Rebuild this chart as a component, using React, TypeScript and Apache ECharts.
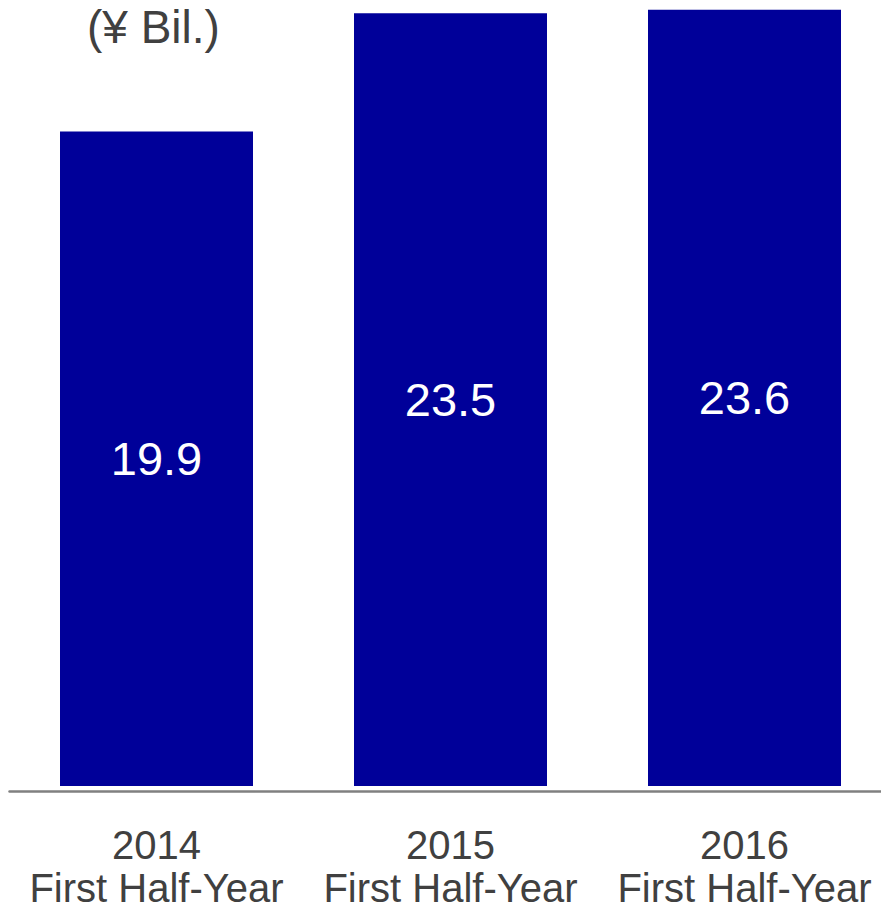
import React, { useEffect, useRef } from "react";
import * as echarts from "echarts";

const years = ["2014", "2015", "2016"];
const periodLabel = "First Half-Year";
const values = [19.9, 23.5, 23.6];
const unitLabel = "(¥ Bil.)";

const FONT = "'Liberation Sans', Arial, Helvetica, sans-serif";

export default function App() {
  const ref = useRef<HTMLDivElement>(null);
  useEffect(() => {
    if (!ref.current) return;
    const chart = echarts.init(ref.current, undefined, { renderer: "svg" });
    chart.setOption({
      animation: false,
      grid: { left: 9.5, right: 8.5, top: 0, bottom: 121, containLabel: false },
      xAxis: {
        type: "category",
        data: years.map((y) => `${y}\n${periodLabel}`),
        offset: 5,
        axisLine: { show: true, onZero: false, lineStyle: { color: "#808080", width: 2.5 } },
        axisTick: { show: false },
        axisLabel: {
          color: "#404040",
          fontSize: 40,
          lineHeight: 43,
          fontFamily: FONT,
          margin: 32,
          interval: 0,
        },
      },
      yAxis: {
        type: "value",
        min: 0,
        max: 23.9,
        show: false,
        splitLine: { show: false },
      },
      series: [
        {
          type: "bar",
          data: values,
          barWidth: 193,
          itemStyle: { color: "#000099" },
          label: {
            show: true,
            position: "inside",
            color: "#ffffff",
            fontSize: 47,
            fontFamily: FONT,
            formatter: (p: any) => p.value.toFixed(1),
          },
        },
      ],
      graphic: [
        {
          type: "text",
          x: 87,
          y: 27,
          style: {
            text: unitLabel,
            fill: "#404040",
            fontSize: 46,
            fontFamily: FONT,
            textAlign: "left",
            textVerticalAlign: "middle",
            verticalAlign: "middle",
          },
        },
      ],
    });
    return () => chart.dispose();
  }, []);
  return (
    <div style={{ position: "fixed", left: 0, top: 0, width: 881, height: 909, overflow: "hidden", background: "#fff" }}>
      <div ref={ref} style={{ width: 900, height: 909 }} />
    </div>
  );
}
